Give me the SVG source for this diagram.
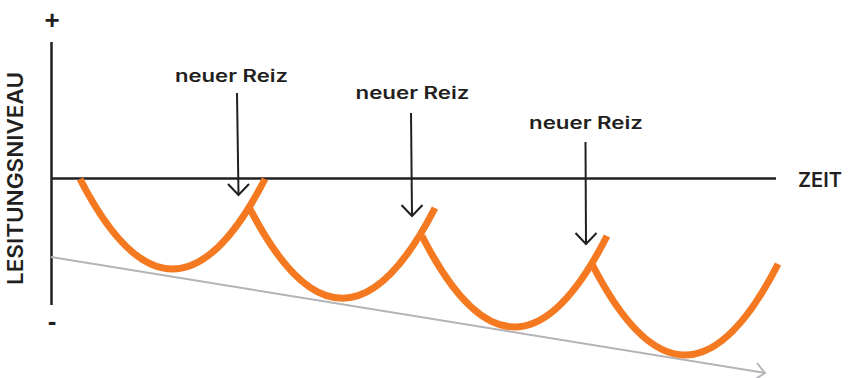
<svg xmlns="http://www.w3.org/2000/svg" width="848" height="378" viewBox="0 0 848 378">
<defs>
<style>
.txt{font-family:Inter,"Liberation Sans",Arial,sans-serif;font-weight:600;fill:#231F20}
.sym{font-family:"Liberation Sans",Arial,sans-serif;font-weight:700;fill:#231F20}
.axis{stroke:#231F20;stroke-width:2.5;fill:none}
.curve{stroke:#F47920;stroke-width:7;fill:none;stroke-linecap:butt}
.arrow{stroke:#231F20;stroke-width:2;fill:none}
.trend{stroke:#B3B3B8;stroke-width:2;fill:none}
</style>
</defs>
<rect width="848" height="378" fill="#ffffff"/>
<g id="axes">
<line class="axis" x1="51.5" y1="42" x2="51.5" y2="305"/>
<line class="axis" x1="51" y1="178.5" x2="776" y2="178.5"/>
<text class="sym" x="52" y="29" font-size="26" text-anchor="middle">+</text>
<text class="sym" x="52" y="330" font-size="26" text-anchor="middle">-</text>
<text class="txt" x="820" y="187" font-size="20" text-anchor="middle" textLength="44" lengthAdjust="spacingAndGlyphs">ZEIT</text>
<text class="txt" transform="translate(23,178.5) rotate(-90)" font-size="21" text-anchor="middle" textLength="213" lengthAdjust="spacingAndGlyphs">LESITUNGSNIVEAU</text>
</g>
<g id="trend">
<line class="trend" x1="51" y1="257" x2="765" y2="373"/>
<polyline class="trend" points="757,363 765,373 754,380"/>
</g>
<g id="curves">
<path class="curve" d="M80,179 Q172.5,359 265,179"/>
<path class="curve" d="M250,209 Q342.5,388 435,208"/>
<path class="curve" d="M422,236 Q514.5,418 607,236"/>
<path class="curve" d="M592,264 Q685,446 778,264"/>
</g>
<g id="stimulus1">
<text class="txt" x="231.5" y="82" font-size="17" text-anchor="middle" textLength="113" lengthAdjust="spacingAndGlyphs">neuer Reiz</text>
<line class="arrow" x1="237" y1="93" x2="238.5" y2="195"/>
<polyline class="arrow" points="228,184 238.5,195 249,184"/>
</g>
<g id="stimulus2">
<text class="txt" x="412.5" y="99" font-size="17" text-anchor="middle" textLength="114" lengthAdjust="spacingAndGlyphs">neuer Reiz</text>
<line class="arrow" x1="411" y1="113" x2="412" y2="216"/>
<polyline class="arrow" points="401.5,205 412,216 422.5,205"/>
</g>
<g id="stimulus3">
<text class="txt" x="586" y="129" font-size="17" text-anchor="middle" textLength="114" lengthAdjust="spacingAndGlyphs">neuer Reiz</text>
<line class="arrow" x1="585.5" y1="142" x2="586" y2="244"/>
<polyline class="arrow" points="575.5,233 586,244 596.5,233"/>
</g>
</svg>
